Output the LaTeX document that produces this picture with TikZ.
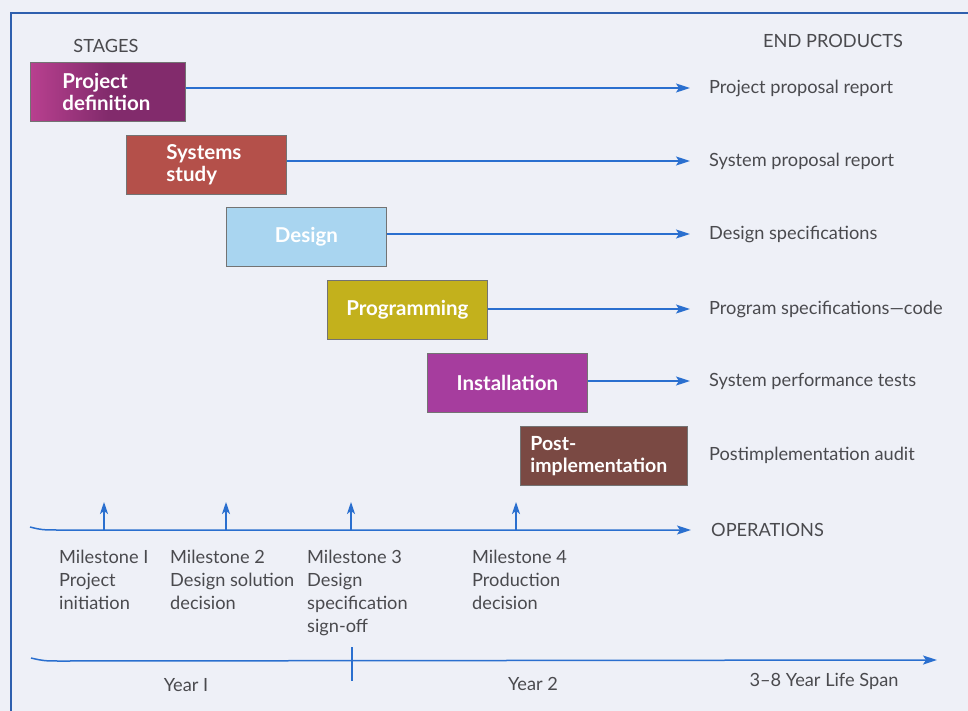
\documentclass[tikz,border=0pt]{standalone}
\usepackage{fontspec}
\setmainfont{Lato}
\usetikzlibrary{arrows.meta,calc}

\definecolor{paper}{HTML}{EEF0F7}
\definecolor{frameblue}{HTML}{2E5FAE}
\definecolor{lineblue}{HTML}{2A6FCF}
\definecolor{inkgrey}{HTML}{4A4A4E}
\definecolor{cPurple}{HTML}{822B6C}
\definecolor{cPink}{HTML}{B8408F}
\definecolor{cBrick}{HTML}{B4504A}
\definecolor{cSky}{HTML}{A9D5F0}
\definecolor{cOlive}{HTML}{C3B11C}
\definecolor{cMagenta}{HTML}{A63D9E}
\definecolor{cBrown}{HTML}{7A4943}

\tikzset{
  stagebox/.style={draw=black!55, line width=0.8pt, minimum width=160pt,
    minimum height=59pt, inner sep=0pt, text=white,
    font=\fontsize{20.5}{22}\selectfont\bfseries},
  txt/.style={text=inkgrey, font=\fontsize{18.2}{23}\selectfont, inner sep=0pt},
  flow/.style={draw=lineblue, line width=1.5pt, -{Stealth[length=14pt,width=9pt,inset=3pt]}},
  msarrow/.style={draw=lineblue, line width=1.6pt, -{Stealth[length=12pt,width=8pt,inset=3pt]}},
  axis/.style={draw=lineblue, line width=1.5pt},
}

\begin{document}
\begin{tikzpicture}[x=1pt,y=-1pt]
  % page and frame
  \useasboundingbox (0,0) rectangle (968,711);
  \fill[paper] (0,0) rectangle (968,711);
  \draw[frameblue, line width=2.6pt] (11,711) -- (11,13) -- (968,13);

  % column headings
  \node[txt] (stages) at (106,46) {STAGES};
  \node[txt] (ends) at (833,41) {END PRODUCTS};

  % stage boxes
  \node[stagebox, minimum width=155pt, left color=cPink, right color=cPurple,
        middle color=cPurple, anchor=north west, align=left] (s1) at (30,62)
        {\hspace*{27pt}\parbox[c]{118pt}{Project\\definition}};
  \node[stagebox, fill=cBrick, anchor=north west] (s2) at (126,135)
        {\hspace*{40pt}\parbox[c]{120pt}{Systems\\study}};
  \node[stagebox, fill=cSky, anchor=north west] (s3) at (226,207) {Design};
  \node[stagebox, fill=cOlive, anchor=north west] (s4) at (327,280) {Programming};
  \node[stagebox, fill=cMagenta, anchor=north west] (s5) at (427,353) {Installation};
  \node[stagebox, minimum width=167pt, fill=cBrown, anchor=north west,
        font=\fontsize{19.5}{22}\selectfont\bfseries] (s6) at (520,426)
        {\hspace*{10pt}\parbox[c]{157pt}{Post-\\implementation}};

  % end products
  \node[txt, anchor=west] (p1) at (709,88) {Project proposal report};
  \node[txt, anchor=west] (p2) at (709,161) {System proposal report};
  \node[txt, anchor=west] (p3) at (709,234) {Design specifications};
  \node[txt, anchor=west] (p4) at (709,309) {Program specifications---code};
  \node[txt, anchor=west] (p5) at (709,381) {System performance tests};
  \node[txt, anchor=west] (p6) at (709,455) {Postimplementation audit};

  % stage-to-product arrows
  \foreach \i in {1,...,5}{
    \coordinate (t\i) at ($(p\i.west)+(-19,0)$);
  }
  \foreach \i in {1,...,5}{
    \draw[flow] (s\i.east |- p\i.west) -- (t\i);
  }

  % operations line with milestones
  \coordinate (ops0) at (30,527);
  \coordinate (ops1) at (691,530);
  \node[txt, anchor=west] (ops) at (711,530) {OPERATIONS};
  \draw[flow] (ops0) .. controls (42,530) .. (62,530) -- (ops1);
  \foreach \x/\n in {104/1,226/2,351/3,516/4}{
    \coordinate (m\n) at (\x,530);
    \coordinate (mt\n) at (\x,502);
    \draw[msarrow] (m\n) -- (mt\n);
  }

  % milestone captions
  \node[txt, anchor=north west, align=left] (c1) at (59,550)
        {Milestone I\\Project\\initiation};
  \node[txt, anchor=north west, align=left] (c2) at (170,550)
        {Milestone 2\\Design solution\\decision};
  \node[txt, anchor=north west, align=left] (c3) at (307,550)
        {Milestone 3\\Design\\specification\\sign-off};
  \node[txt, anchor=north west, align=left] (c4) at (472,550)
        {Milestone 4\\Production\\decision};

  % life-span time line
  \coordinate (life0) at (31,658);
  \coordinate (life1) at (937,660);
  \draw[flow] (life0) .. controls (44,661) .. (64,661) -- (life1);
  \coordinate (yr0) at (352,647);
  \coordinate (yr1) at (352,681);
  \draw[axis] (yr0) -- (yr1);
  \node[txt] (y1) at (186,685) {Year I};
  \node[txt] (y2) at (533,684) {Year 2};
  \node[txt] (span) at (824,681) {3--8 Year Life Span};
\end{tikzpicture}
\end{document}
